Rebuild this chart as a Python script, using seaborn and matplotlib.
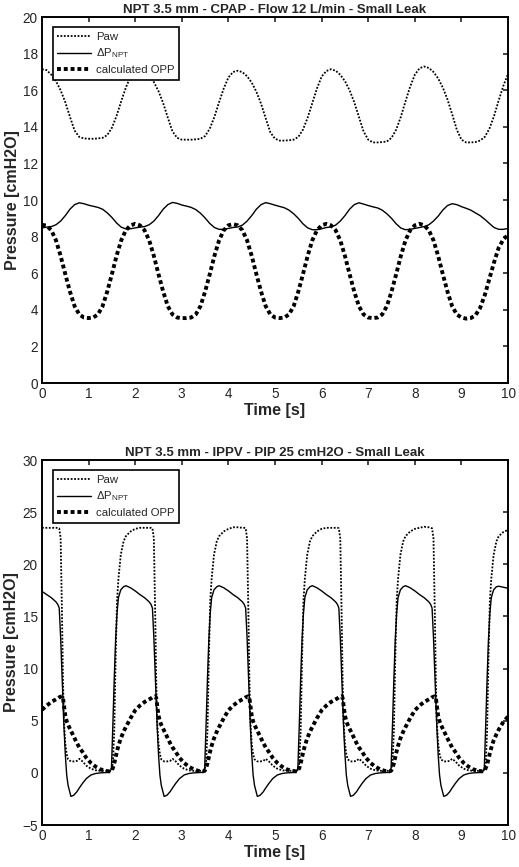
import matplotlib
matplotlib.use('Agg')
import matplotlib.pyplot as plt
import numpy as np
import seaborn as sns

# ---- CPAP panel (t = 0 .. 10 s, 0.1 s steps) ----
t_cpap = np.round(np.arange(0, 10.01, 0.1), 1)
paw_cpap = [17.15, 17.1, 16.85, 16.5, 16.0, 15.35, 14.55, 13.8, 13.45, 13.37,
            13.35, 13.35, 13.37, 13.4, 13.55, 13.95, 14.6, 15.4, 16.15, 16.75,
            17.05, 17.1, 17.02, 16.8, 16.45, 15.95, 15.3, 14.5, 13.75, 13.4,
            13.3, 13.3, 13.3, 13.32, 13.35, 13.5, 13.9, 14.55, 15.35, 16.1,
            16.7, 17.0, 17.07, 16.99, 16.77, 16.42, 15.92, 15.27, 14.47, 13.7,
            13.35, 13.25, 13.25, 13.27, 13.3, 13.45, 13.85, 14.5, 15.3, 16.1,
            16.75, 17.05, 17.15, 17.07, 16.85, 16.5, 16.0, 15.35, 14.55, 13.75,
            13.3, 13.15, 13.15, 13.17, 13.2, 13.4, 13.85, 14.55, 15.4, 16.2,
            16.85, 17.2, 17.3, 17.22, 17.0, 16.65, 16.15, 15.5, 14.7, 13.85,
            13.3, 13.15, 13.15, 13.17, 13.25, 13.45, 13.9, 14.6, 15.45, 16.25,
            16.9]
dp_cpap = [8.48, 8.52, 8.55, 8.65, 8.85, 9.15, 9.5, 9.75, 9.85, 9.8,
           9.72, 9.66, 9.6, 9.5, 9.3, 9.05, 8.75, 8.52, 8.42, 8.43,
           8.48, 8.52, 8.55, 8.65, 8.85, 9.15, 9.5, 9.75, 9.87, 9.82,
           9.73, 9.67, 9.6, 9.48, 9.28, 9.02, 8.72, 8.5, 8.4, 8.4,
           8.45, 8.5, 8.53, 8.63, 8.85, 9.15, 9.5, 9.75, 9.86, 9.8,
           9.72, 9.65, 9.58, 9.45, 9.25, 9.0, 8.7, 8.48, 8.38, 8.38,
           8.43, 8.5, 8.53, 8.63, 8.85, 9.15, 9.5, 9.75, 9.85, 9.78,
           9.7, 9.63, 9.57, 9.45, 9.25, 9.0, 8.7, 8.47, 8.38, 8.4,
           8.45, 8.5, 8.55, 8.65, 8.85, 9.12, 9.45, 9.7, 9.8, 9.75,
           9.64, 9.55, 9.45, 9.3, 9.15, 8.95, 8.72, 8.5, 8.4, 8.4,
           8.45]
opp_cpap = [8.65, 8.6, 8.35, 7.8, 6.95, 5.95, 5.0, 4.2, 3.75, 3.58,
            3.55, 3.58, 3.75, 4.2, 5.0, 5.95, 6.95, 7.8, 8.35, 8.62,
            8.7, 8.62, 8.35, 7.8, 6.95, 5.95, 5.0, 4.2, 3.75, 3.58,
            3.55, 3.55, 3.58, 3.75, 4.2, 5.0, 5.95, 6.95, 7.8, 8.35,
            8.62, 8.68, 8.62, 8.35, 7.8, 6.95, 5.95, 5.0, 4.2, 3.75,
            3.58, 3.55, 3.58, 3.75, 4.2, 5.0, 5.95, 6.95, 7.8, 8.35,
            8.62, 8.7, 8.62, 8.35, 7.8, 6.95, 5.95, 5.0, 4.2, 3.75,
            3.58, 3.55, 3.58, 3.75, 4.2, 5.0, 5.95, 6.95, 7.8, 8.35,
            8.62, 8.7, 8.62, 8.35, 7.8, 6.95, 5.95, 5.0, 4.2, 3.75,
            3.58, 3.52, 3.55, 3.7, 4.1, 4.8, 5.7, 6.6, 7.4, 7.85,
            8.1]

# ---- IPPV panel (non-uniform time, denser on the fast edges) ----
t_ippv = [
    0.0, 0.1, 0.2, 0.3, 0.34, 0.37, 0.4, 0.43, 0.45, 0.47, 0.5, 0.53, 0.56, 0.62, 0.68, 0.75, 0.8,
    0.87, 0.95, 1.05, 1.15, 1.25, 1.35, 1.45, 1.49, 1.52, 1.55, 1.58, 1.61, 1.64, 1.69, 1.75, 1.8, 1.9,
    2.0, 2.1, 2.2, 2.3, 2.34, 2.37, 2.4, 2.43, 2.45, 2.47, 2.5, 2.53, 2.56, 2.62, 2.68, 2.75, 2.8,
    2.87, 2.95, 3.05, 3.15, 3.25, 3.35, 3.45, 3.49, 3.52, 3.55, 3.58, 3.61, 3.64, 3.69, 3.75, 3.8, 3.9,
    4.0, 4.1, 4.2, 4.3, 4.34, 4.37, 4.4, 4.43, 4.45, 4.47, 4.5, 4.53, 4.56, 4.62, 4.68, 4.75, 4.8,
    4.87, 4.95, 5.05, 5.15, 5.25, 5.35, 5.45, 5.49, 5.52, 5.55, 5.58, 5.61, 5.64, 5.69, 5.75, 5.8, 5.9,
    6.0, 6.1, 6.2, 6.3, 6.34, 6.37, 6.4, 6.43, 6.45, 6.47, 6.5, 6.53, 6.56, 6.62, 6.68, 6.75, 6.8,
    6.87, 6.95, 7.05, 7.15, 7.25, 7.35, 7.45, 7.49, 7.52, 7.55, 7.58, 7.61, 7.64, 7.69, 7.75, 7.8, 7.9,
    8.0, 8.1, 8.2, 8.3, 8.34, 8.37, 8.4, 8.43, 8.45, 8.47, 8.5, 8.53, 8.56, 8.62, 8.68, 8.75, 8.8,
    8.87, 8.95, 9.05, 9.15, 9.25, 9.35, 9.45, 9.49, 9.52, 9.55, 9.58, 9.61, 9.64, 9.69, 9.75, 9.8, 9.9,
    10.0]
paw_ippv = [
    23.5, 23.5, 23.5, 23.5, 23.5, 23.45, 22.5, 15.0, 9.0, 5.0, 2.8, 1.8, 1.3, 1.1, 1.1, 1.15, 1.35,
    1.1, 0.7, 0.4, 0.25, 0.2, 0.2, 0.2, 0.3, 0.9, 4.0, 11.0, 16.5, 18.6, 20.9, 22.2, 22.7, 23.15,
    23.4, 23.5, 23.5, 23.5, 23.5, 23.45, 22.5, 15.0, 9.0, 5.0, 2.8, 1.8, 1.3, 1.1, 1.1, 1.15, 1.35,
    1.1, 0.7, 0.4, 0.25, 0.2, 0.2, 0.2, 0.3, 0.9, 4.0, 11.0, 16.5, 18.6, 20.9, 22.2, 22.7, 23.15,
    23.4, 23.55, 23.55, 23.5, 23.5, 23.45, 22.5, 15.0, 9.0, 5.0, 2.8, 1.8, 1.3, 1.1, 1.1, 1.15, 1.35,
    1.1, 0.7, 0.4, 0.25, 0.2, 0.2, 0.2, 0.3, 0.9, 4.0, 11.0, 16.5, 18.6, 20.9, 22.2, 22.7, 23.15,
    23.4, 23.5, 23.5, 23.5, 23.5, 23.45, 22.5, 15.0, 9.0, 5.0, 2.8, 1.8, 1.3, 1.1, 1.1, 1.15, 1.35,
    1.1, 0.7, 0.4, 0.25, 0.2, 0.2, 0.2, 0.3, 0.9, 4.0, 11.0, 16.5, 18.6, 20.9, 22.2, 22.7, 23.15,
    23.4, 23.5, 23.6, 23.55, 23.5, 23.45, 22.5, 15.0, 9.0, 5.0, 2.8, 1.8, 1.3, 1.1, 1.1, 1.15, 1.35,
    1.1, 0.7, 0.4, 0.25, 0.2, 0.2, 0.2, 0.3, 0.9, 4.0, 11.0, 16.5, 18.6, 20.9, 22.2, 22.7, 23.1,
    23.3]
dp_ippv = [
    17.4, 17.1, 16.8, 16.4, 16.15, 15.8, 13.0, 9.5, 7.0, 4.6, 1.8, -0.2, -1.2, -2.25, -2.15, -1.8, -1.45,
    -1.0, -0.55, -0.2, -0.06, 0.0, 0.02, 0.05, 0.4, 4.5, 9.0, 12.8, 15.3, 16.8, 17.55, 17.85, 17.95, 17.75,
    17.45, 17.1, 16.8, 16.4, 16.15, 15.8, 13.0, 9.5, 7.0, 4.6, 1.8, -0.2, -1.2, -2.25, -2.15, -1.8, -1.45,
    -1.0, -0.55, -0.2, -0.06, 0.0, 0.02, 0.05, 0.4, 4.5, 9.0, 12.8, 15.3, 16.8, 17.55, 17.85, 17.95, 17.75,
    17.45, 17.1, 16.8, 16.4, 16.15, 15.8, 13.0, 9.5, 7.0, 4.6, 1.8, -0.2, -1.2, -2.25, -2.15, -1.8, -1.45,
    -1.0, -0.55, -0.2, -0.06, 0.0, 0.02, 0.05, 0.4, 4.5, 9.0, 12.8, 15.3, 16.8, 17.55, 17.85, 17.95, 17.75,
    17.45, 17.1, 16.8, 16.4, 16.15, 15.8, 13.0, 9.5, 7.0, 4.6, 1.8, -0.2, -1.2, -2.25, -2.15, -1.8, -1.45,
    -1.0, -0.55, -0.2, -0.06, 0.0, 0.02, 0.05, 0.4, 4.5, 9.0, 12.8, 15.3, 16.8, 17.55, 17.85, 17.95, 17.75,
    17.45, 17.1, 16.8, 16.4, 16.15, 15.8, 13.0, 9.5, 7.0, 4.6, 1.8, -0.2, -1.2, -2.25, -2.15, -1.8, -1.45,
    -1.0, -0.55, -0.2, -0.06, 0.0, 0.02, 0.05, 0.4, 4.5, 9.0, 12.8, 15.3, 16.8, 17.55, 17.85, 17.9, 17.8,
    17.7]
opp_ippv = [
    6.05, 6.45, 6.8, 7.05, 7.15, 7.25, 7.3, 7.35, 7.2, 6.5, 5.5, 4.95, 4.6, 4.05, 3.5, 2.85, 2.45,
    2.0, 1.45, 0.95, 0.6, 0.35, 0.2, 0.15, 0.2, 0.45, 0.9, 1.5, 2.1, 2.6, 3.3, 3.95, 4.4, 5.25,
    6.0, 6.45, 6.8, 7.05, 7.15, 7.25, 7.3, 7.35, 7.2, 6.5, 5.5, 4.95, 4.6, 4.05, 3.5, 2.85, 2.45,
    2.0, 1.45, 0.95, 0.6, 0.35, 0.2, 0.15, 0.2, 0.45, 0.9, 1.5, 2.1, 2.6, 3.3, 3.95, 4.4, 5.25,
    6.0, 6.45, 6.8, 7.05, 7.15, 7.25, 7.3, 7.35, 7.2, 6.5, 5.5, 4.95, 4.6, 4.05, 3.5, 2.85, 2.45,
    2.0, 1.45, 0.95, 0.6, 0.35, 0.2, 0.15, 0.2, 0.45, 0.9, 1.5, 2.1, 2.6, 3.3, 3.95, 4.4, 5.25,
    6.0, 6.45, 6.8, 7.05, 7.15, 7.25, 7.3, 7.35, 7.2, 6.5, 5.5, 4.95, 4.6, 4.05, 3.5, 2.85, 2.45,
    2.0, 1.45, 0.95, 0.6, 0.35, 0.2, 0.15, 0.2, 0.45, 0.9, 1.5, 2.1, 2.6, 3.3, 3.95, 4.4, 5.25,
    6.0, 6.45, 6.8, 7.05, 7.15, 7.25, 7.3, 7.35, 7.2, 6.5, 5.5, 4.95, 4.6, 4.05, 3.5, 2.85, 2.45,
    2.0, 1.45, 0.95, 0.6, 0.35, 0.2, 0.15, 0.2, 0.45, 0.8, 1.3, 1.9, 2.4, 3.1, 3.7, 4.15, 4.9,
    5.4]

titles = ['NPT 3.5 mm - CPAP - Flow 12 L/min - Small Leak',
          'NPT 3.5 mm - IPPV - PIP 25 cmH2O - Small Leak']
labels = ['Paw', r'$\Delta\mathrm{P}_{\mathrm{NPT}}$', 'calculated OPP']

sns.set_style('white')
plt.rcParams['font.family'] = ['Liberation Sans', 'DejaVu Sans']
plt.rcParams['mathtext.fontset'] = 'custom'
plt.rcParams['mathtext.rm'] = 'Liberation Sans'
plt.rcParams['mathtext.it'] = 'Liberation Sans:italic'

fig = plt.figure(figsize=(5.19, 8.67), dpi=100)
ax1 = fig.add_axes([0.0809, 0.5582, 0.898, 0.4221])
ax2 = fig.add_axes([0.0809, 0.0484, 0.898, 0.421])

panels = [
    (ax1, t_cpap, paw_cpap, dp_cpap, opp_cpap, (0, 20), np.arange(0, 21, 2)),
    (ax2, t_ippv, paw_ippv, dp_ippv, opp_ippv, (-5, 30), np.arange(-5, 31, 5)),
]

for i, (ax, t, paw, dp, opp, ylim, yt) in enumerate(panels):
    sns.lineplot(x=t, y=paw, ax=ax, color='k', linewidth=1.3,
                 linestyle=(0, (1, 0.9)), label=labels[0])
    sns.lineplot(x=t, y=dp, ax=ax, color='k', linewidth=1.0, label=labels[1])
    sns.lineplot(x=t, y=opp, ax=ax, color='k', linewidth=2.8,
                 linestyle=(0, (1, 0.75)), label=labels[2])
    ax.set_xlim(0, 10)
    ax.set_ylim(*ylim)
    ax.set_xticks(range(0, 11))
    ax.set_yticks(yt)
    ax.tick_params(direction='in', length=3.5, width=1.2, top=True, right=True,
                   labelsize=9.8, labelcolor='#262626', pad=3)
    for s in ax.spines.values():
        s.set_linewidth(1.4)
        s.set_color('k')
    ax.set_title(titles[i], fontsize=9.5, fontweight='bold', pad=3)
    ax.set_xlabel('Time [s]', fontsize=11.5, fontweight='bold', labelpad=1)
    ax.set_ylabel('Pressure [cmH2O]', fontsize=11.5, fontweight='bold', labelpad=2)
    leg = ax.legend(loc='upper left', bbox_to_anchor=(0.023, 0.972), borderaxespad=0,
                    fontsize=8.2, handlelength=3.0, handletextpad=0.4,
                    labelspacing=0.42, borderpad=0.4, fancybox=False,
                    framealpha=1, edgecolor='k')
    leg.get_frame().set_linewidth(1.2)

fig.savefig('out.png', dpi=100)
